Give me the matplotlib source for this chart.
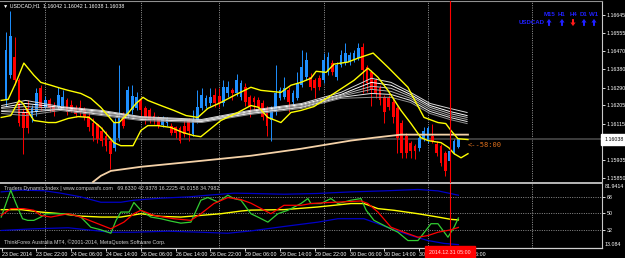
import matplotlib
matplotlib.use('Agg')
import matplotlib.pyplot as plt
from matplotlib import transforms
from matplotlib.patches import Polygon

plt.rcParams['font.family'] = ['Liberation Sans', 'DejaVu Sans']

# ---- USDCAD H1 candles (bar 0 = oldest visible bar) ----
opens = [1.16228, 1.16351, 1.16439, 1.16326, 1.16169, 1.16189, 1.16140, 1.16169, 1.16287, 1.16194,
         1.16228, 1.16203, 1.16194, 1.16203, 1.16228, 1.16208, 1.16189, 1.16198, 1.16179, 1.16154,
         1.16120, 1.16115, 1.16081, 1.16056, 1.16032, 1.15997, 1.16046, 1.16145, 1.16154, 1.16179,
         1.16189, 1.16228, 1.16189, 1.16179, 1.16154, 1.16140, 1.16110, 1.16120, 1.16105, 1.16096,
         1.16091, 1.16105, 1.16130, 1.16066, 1.16130, 1.16189, 1.16203, 1.16213, 1.16253, 1.16248,
         1.16213, 1.16262, 1.16277, 1.16262, 1.16243, 1.16292, 1.16243, 1.16238, 1.16228, 1.16213,
         1.16189, 1.16130, 1.16169, 1.16238, 1.16243, 1.16277, 1.16218, 1.16238, 1.16302, 1.16341,
         1.16341, 1.16326, 1.16336, 1.16326, 1.16365, 1.16410, 1.16341, 1.16400, 1.16410, 1.16415,
         1.16424, 1.16434, 1.16488, 1.16390, 1.16365, 1.16326, 1.16287, 1.16243, 1.16238, 1.16218,
         1.16189, 1.16120, 1.16056, 1.16022, 1.16007, 1.15997, 1.16041, 1.16032, 1.16056, 1.16017,
         1.16007, 1.15973, 1.15933, 1.15973, 1.16000]
closes = [1.16474, 1.16542, 1.16326, 1.16120, 1.16091, 1.16091, 1.16189, 1.16262, 1.16194, 1.16228,
          1.16189, 1.16169, 1.16253, 1.16243, 1.16169, 1.16179, 1.16164, 1.16169, 1.16145, 1.16096,
          1.16056, 1.16041, 1.16032, 1.16007, 1.15968, 1.16120, 1.16145, 1.16105, 1.16277, 1.16248,
          1.16243, 1.16179, 1.16140, 1.16130, 1.16130, 1.16105, 1.16140, 1.16140, 1.16071, 1.16071,
          1.16032, 1.16066, 1.16081, 1.16130, 1.16194, 1.16253, 1.16238, 1.16243, 1.16213, 1.16213,
          1.16292, 1.16292, 1.16262, 1.16326, 1.16311, 1.16218, 1.16203, 1.16218, 1.16194, 1.16145,
          1.16105, 1.16179, 1.16262, 1.16277, 1.16287, 1.16218, 1.16262, 1.16311, 1.16390, 1.16424,
          1.16292, 1.16287, 1.16292, 1.16424, 1.16439, 1.16365, 1.16400, 1.16449, 1.16459, 1.16449,
          1.16459, 1.16483, 1.16375, 1.16311, 1.16277, 1.16262, 1.16228, 1.16169, 1.16194, 1.16145,
          1.16046, 1.15973, 1.15973, 1.15982, 1.15982, 1.16046, 1.16081, 1.16091, 1.16032, 1.15973,
          1.15924, 1.15884, 1.15982, 1.16032, 1.16038]
highs = [1.16562, 1.16665, 1.16537, 1.16336, 1.16189, 1.16228, 1.16208, 1.16287, 1.16302, 1.16248,
         1.16238, 1.16218, 1.16292, 1.16277, 1.16238, 1.16228, 1.16208, 1.16228, 1.16198, 1.16169,
         1.16140, 1.16120, 1.16100, 1.16081, 1.16051, 1.16140, 1.16400, 1.16169, 1.16297, 1.16302,
         1.16267, 1.16243, 1.16203, 1.16189, 1.16169, 1.16154, 1.16154, 1.16149, 1.16120, 1.16105,
         1.16105, 1.16130, 1.16140, 1.16179, 1.16277, 1.16287, 1.16253, 1.16287, 1.16287, 1.16287,
         1.16326, 1.16321, 1.16287, 1.16356, 1.16326, 1.16311, 1.16253, 1.16248, 1.16243, 1.16228,
         1.16203, 1.16203, 1.16400, 1.16292, 1.16341, 1.16292, 1.16277, 1.16365, 1.16474, 1.16464,
         1.16360, 1.16336, 1.16351, 1.16459, 1.16464, 1.16424, 1.16415, 1.16474, 1.16508, 1.16464,
         1.16474, 1.16508, 1.16508, 1.16400, 1.16375, 1.16336, 1.16302, 1.16253, 1.16253, 1.16243,
         1.16203, 1.16130, 1.16071, 1.16032, 1.16017, 1.16056, 1.16100, 1.16105, 1.16115, 1.16032,
         1.16017, 1.15982, 1.15992, 1.16041, 1.16042]
lows = [1.16203, 1.16336, 1.16302, 1.16105, 1.15968, 1.16071, 1.16125, 1.16154, 1.16179, 1.16179,
        1.16169, 1.16154, 1.16184, 1.16189, 1.16159, 1.16169, 1.16149, 1.16154, 1.16130, 1.16081,
        1.16032, 1.16022, 1.16007, 1.15982, 1.15894, 1.15982, 1.16032, 1.16091, 1.16140, 1.16164,
        1.16179, 1.16154, 1.16115, 1.16120, 1.16115, 1.16091, 1.16100, 1.16105, 1.16061, 1.16046,
        1.16022, 1.16051, 1.16032, 1.16056, 1.16120, 1.16179, 1.16189, 1.16203, 1.16198, 1.16194,
        1.16203, 1.16243, 1.16228, 1.16248, 1.16228, 1.16203, 1.16145, 1.16179, 1.16179, 1.16130,
        1.16056, 1.16032, 1.16159, 1.16228, 1.16233, 1.16169, 1.16208, 1.16228, 1.16292, 1.16326,
        1.16277, 1.16238, 1.16277, 1.16311, 1.16351, 1.16351, 1.16326, 1.16390, 1.16400, 1.16400,
        1.16415, 1.16424, 1.16262, 1.16267, 1.16203, 1.16238, 1.16208, 1.16120, 1.16179, 1.16120,
        1.15973, 1.15948, 1.15948, 1.15948, 1.15943, 1.15982, 1.16032, 1.16022, 1.16022, 1.15958,
        1.15909, 1.15860, 1.15924, 1.15968, 1.15995]

# ---- main window indicators (x = bar number) ----
band_hi_x = [-1.1, 0.5, 2.3, 4.1, 6.4, 8.0, 10.3, 12.6, 14.3, 17.2, 19.5, 21.8, 24.8, 26.0, 28.0, 29.9,
             31.5, 32.6, 35.6, 38.6, 41.4, 44.1, 46.4, 49.4, 52.9, 56.3, 58.6, 63.2, 65.5, 67.8, 70.1,
             71.3, 73.6, 75.4, 78.6, 80.9, 84.4, 87.8, 90.8, 92.4, 93.6, 96.1, 99.3, 101.1, 102.3,
             103.9, 106.2]
band_hi = [1.16228, 1.16233, 1.16316, 1.16410, 1.16351, 1.16316, 1.16302, 1.16287, 1.16277, 1.16262,
           1.16238, 1.16194, 1.16120, 1.16120, 1.16164, 1.16213, 1.16243, 1.16228, 1.16203, 1.16179,
           1.16154, 1.16145, 1.16189, 1.16218, 1.16257, 1.16292, 1.16277, 1.16267, 1.16302, 1.16316,
           1.16336, 1.16370, 1.16365, 1.16405, 1.16415, 1.16434, 1.16459, 1.16390, 1.16326, 1.16292,
           1.16243, 1.16145, 1.16120, 1.16115, 1.16081, 1.16041, 1.16037]
band_lo_x = [-1.1, 1.1, 3.0, 3.9, 6.4, 9.7, 11.5, 14.3, 16.6, 19.1, 21.8, 24.8, 26.4, 29.2, 31.0, 32.6,
             34.9, 37.9, 40.7, 43.2, 44.8, 49.4, 53.3, 56.3, 58.1, 60.2, 63.2, 65.5, 67.8, 70.8, 75.4,
             80.0, 83.2, 85.5, 87.8, 90.8, 93.1, 95.4, 97.0, 100.0, 101.8, 103.0, 104.6, 106.2]
band_lo = [1.16145, 1.16154, 1.16228, 1.16213, 1.16130, 1.16120, 1.16120, 1.16140, 1.16149, 1.16145,
           1.16096, 1.16022, 1.16007, 1.16007, 1.16081, 1.16105, 1.16105, 1.16096, 1.16071, 1.16056,
           1.16051, 1.16130, 1.16169, 1.16203, 1.16194, 1.16145, 1.16120, 1.16169, 1.16179, 1.16198,
           1.16262, 1.16326, 1.16385, 1.16341, 1.16277, 1.16179, 1.16115, 1.16046, 1.16032, 1.16022,
           1.15997, 1.15968, 1.15948, 1.15968]
slow_ma_x = [20.0, 21.8, 24.1, 31.0, 44.8, 56.3, 67.8, 79.3, 84.6, 90.8, 106.2]
slow_ma = [1.15830, 1.15860, 1.15884, 1.15904, 1.15933, 1.15958, 1.15992, 1.16032, 1.16046, 1.16061, 1.16061]

ribbon_x = [-1, 4.5, 12.5, 22, 31, 45, 56, 68, 77, 84, 88.5, 93, 97.5, 102, 106]
ribbon_1 = [1.16203, 1.16228, 1.16198, 1.16179, 1.16149, 1.16135, 1.16179, 1.16213, 1.16267, 1.16336,
            1.16316, 1.16267, 1.16213, 1.16189, 1.16169]
ribbon_2 = [1.16194, 1.16213, 1.16194, 1.16174, 1.16145, 1.16130, 1.16174, 1.16208, 1.16257, 1.16316,
            1.16302, 1.16257, 1.16203, 1.16174, 1.16154]
ribbon_3 = [1.16189, 1.16198, 1.16189, 1.16169, 1.16145, 1.16130, 1.16169, 1.16203, 1.16253, 1.16297,
            1.16287, 1.16248, 1.16194, 1.16164, 1.16145]
ribbon_4 = [1.16179, 1.16184, 1.16184, 1.16164, 1.16140, 1.16125, 1.16164, 1.16198, 1.16248, 1.16282,
            1.16272, 1.16238, 1.16184, 1.16154, 1.16135]
ribbon_5 = [1.16174, 1.16169, 1.16184, 1.16159, 1.16135, 1.16125, 1.16164, 1.16194, 1.16243, 1.16262,
            1.16257, 1.16228, 1.16174, 1.16145, 1.16125]
ribbon_6 = [1.16164, 1.16154, 1.16179, 1.16154, 1.16130, 1.16120, 1.16159, 1.16189, 1.16238, 1.16243,
            1.16243, 1.16218, 1.16164, 1.16135, 1.16115]

# ---- Traders Dynamic Index ----
rsi_x = [-1.1, 0, 1.1, 2.3, 3.8, 5, 6.4, 8, 9.2, 12.2, 14.3, 17.2, 19.5, 21.8, 24.1, 25.3, 26.4, 28.3,
         29.4, 31, 33.3, 35.6, 37.9, 40.2, 42.5, 44.8, 46.4, 48.7, 51, 52.4, 54, 56.3, 57.9, 60.2,
         62.5, 64.8, 67.8, 69.4, 70.1, 72.4, 74.7, 76.3, 79.3, 81.6, 82.8, 84.6, 86.9, 90.1, 92.4,
         94.7, 97.7, 99.3, 101.6, 103, 104]
rsi = [46, 60.6, 75, 60.6, 44.2, 42.4, 42.4, 46, 49.6, 49.6, 49.6, 46, 35, 32.2, 28.5, 42.4, 51.4, 51.4,
       61.7, 53.3, 46, 44.2, 41.6, 39.4, 40.5, 64.2, 67.1, 62.3, 69.6, 66, 64.2, 49.6, 46, 40.5,
       49.6, 53.3, 60.6, 66, 60.6, 60.6, 66, 60.6, 64.2, 66, 53.3, 42.4, 36.9, 29.6, 20.6,
       20.6, 38.8, 38.8, 24.2, 35, 45.0]
signal_x = [-1.1, 1.1, 4.1, 6.4, 8, 10.3, 14.3, 17.2, 20.2, 24.1, 27.1, 29.4, 31, 34, 38.6, 42.5, 44.8,
            47.8, 51, 54, 56.3, 60.9, 63.9, 67.8, 70.1, 74, 77, 81.6, 83.2, 85.5, 88.5, 91.5, 94.7,
            97, 99.3, 102.3, 104]
signal = [47.8, 55.1, 55.1, 53.3, 47.8, 46, 49.6, 46, 40.5, 33.3, 40.5, 49.6, 53.3, 47.8, 44.2, 42.4, 49.6,
          60.6, 67.1, 64.9, 61, 49.6, 58.7, 58.7, 60.6, 61.7, 62.3, 63.4, 60.6, 51.4, 35, 29.6, 24.2,
          26, 29.6, 32.2, 34.8]
base_x = [-1.1, 3.5, 8, 12.6, 17.2, 21.8, 26.4, 31, 35.6, 40.2, 44.8, 49.4, 54, 56.3, 63.9, 71.7, 79.3,
          82.3, 85.5, 89.2, 94.7, 99.3, 102.3, 104]
base = [54, 54, 51.4, 49.6, 47, 46, 46, 49.6, 46.7, 46, 47.8, 49.6, 52.5, 53.5, 54, 56.9, 60.6,
        60.6, 55.1, 53.3, 49.6, 46, 43.5, 42.9]
vb_up_x = [-1.1, 3.5, 8.7, 12.6, 17.2, 21.8, 26.4, 29.4, 35.6, 41.9, 46.4, 52.4, 56.3, 63.9, 71.7, 79.3,
           86.9, 94.7, 99.3, 104]
vb_up = [73.2, 75.1, 74.5, 71.8, 67.8, 62, 62, 64.2, 66.4, 67.8, 69.6, 71.8, 71.5, 70.7, 71.5, 73.2,
         74.3, 75.8, 74.3, 69.6]
vb_dn_x = [-1.1, 6.4, 14.3, 20.2, 24.1, 29.4, 37.2, 44.8, 51, 56.3, 63.9, 71.7, 76.3, 82.3, 85.5, 89.2,
           93.1, 97, 100.7, 104]
vb_dn = [31.5, 33.3, 34.4, 31.5, 29.6, 29.6, 30.7, 29.6, 28.5, 31, 35.8, 40.5, 44.2, 44.2, 38.8, 32.2,
         26, 20.6, 17.5, 16.2]

price_ticks = [1.16645, 1.16555, 1.16470, 1.16380, 1.16290, 1.16205, 1.16115, 1.15935, 1.15850]
tdi_levels = [68, 50, 32]
time_bars = [-1, 7, 15, 23, 31, 39, 47, 55, 63, 71, 79, 87, 95, 103]
time_labels = ['23 Dec 2014', '23 Dec 22:00', '24 Dec 06:00', '24 Dec 14:00', '26 Dec 06:00',
               '26 Dec 14:00', '26 Dec 22:00', '29 Dec 06:00', '29 Dec 14:00', '29 Dec 22:00',
               '30 Dec 06:00', '30 Dec 14:00', '30 Dec 22:00', '31 Dec 06:00']
day_bars = [9, 31, 49, 73, 97, 121]
last_price = 1.16038
vline_bar = 102
tf_names = ['M15', 'H1', 'H4', 'D1', 'W1']
tf_up = [True, True, False, True, True]

W, H = 625, 258
FS = 3.8
BLUE = '#2020ff'


def px_box(x0, y0, x1, y1):
    return [x0 / W, 1 - y1 / H, (x1 - x0) / W, (y1 - y0) / H]


def arrow(x, yc, up, color):
    # small block arrow, figure pixels measured from the top
    s = -1 if up else 1
    pts = [(x - 2.6, yc), (x, yc + s * 3.6), (x + 2.6, yc), (x + 1.0, yc), (x + 1.0, yc - s * 3.4),
           (x - 1.0, yc - s * 3.4), (x - 1.0, yc)]
    pts = [(px / W, 1 - py / H) for px, py in pts]
    fig.add_artist(Polygon(pts, closed=True, facecolor=color, edgecolor='none',
                           transform=fig.transFigure))


fig = plt.figure(figsize=(W / 100, H / 100), dpi=100, facecolor='black')
ax = fig.add_axes(px_box(0, 1, 602, 183))
ind = fig.add_axes(px_box(0, 183.8, 602, 247.5))
for a in (ax, ind):
    a.set_facecolor('black')
    a.set_xlim(-6 / 4.35, 596 / 4.35)
    a.spines['left'].set_visible(False)
    a.spines['right'].set_color('#c8c8c8')
    a.spines['right'].set_linewidth(0.8)
    for g in day_bars:
        a.axvline(g, color='#b0b0b0', lw=0.6, ls=(0, (1.2, 1.6)), zorder=0.5)

ax.set_ylim(1.15825, 1.16713)
ax.spines['top'].set_color('#909090')
ax.spines['top'].set_linewidth(0.8)
ax.spines['bottom'].set_color('#b8b8b8')
ax.spines['bottom'].set_linewidth(1.4)
ax.axhline(last_price, color='#484848', lw=1.2, zorder=1)

# candles
for i, (o, h, l, c) in enumerate(zip(opens, highs, lows, closes)):
    col = '#1e90ff' if c >= o else '#ff0000'
    ax.vlines(i, l, h, color=col, lw=0.7, zorder=2)
    ax.bar(i, max(abs(c - o), 0.00003), bottom=min(o, c), width=0.64, color=col, lw=0, zorder=2)

ribbon_cols = ['#d8d8d8', '#ffffff', '#c0c0c0', '#a8a8a8', '#e8e8e8', '#909090']
for ys, col in zip([ribbon_1, ribbon_2, ribbon_3, ribbon_4, ribbon_5, ribbon_6], ribbon_cols):
    ax.plot(ribbon_x, ys, color=col, lw=0.7, zorder=3)
ax.plot(slow_ma_x, slow_ma, color='#f5d2a8', lw=1.3, zorder=3)
ax.plot(band_hi_x, band_hi, color='#ffff00', lw=1.0, zorder=4)
ax.plot(band_lo_x, band_lo, color='#ffff00', lw=1.0, zorder=4)
ax.axvline(vline_bar, color='#ff0000', lw=0.8, zorder=5)

ax.yaxis.tick_right()
ax.set_yticks(price_ticks)
ax.set_yticklabels([f'{p:.5f}' for p in price_ticks])
ax.tick_params(axis='y', colors='white', length=2, width=0.6, pad=1.5, labelsize=FS)
ax.tick_params(axis='x', bottom=False, labelbottom=False)

mix = transforms.blended_transform_factory(ax.transAxes, ax.transData)
ax.text(1.004, last_price, f'{last_price:.5f}', transform=mix, ha='left', va='center', fontsize=FS,
        color='black', bbox=dict(facecolor='white', edgecolor='white', pad=0.6, boxstyle='square'))
ax.text(106.2, 1.16008, '<--58:00', color='#e0701c', fontsize=5, family='DejaVu Sans Mono',
        ha='left', va='center', zorder=6)

# indicator window
ind.set_ylim(13.084, 81.9414)
ind.spines['top'].set_visible(False)
ind.spines['bottom'].set_color('#d0d0d0')
ind.spines['bottom'].set_linewidth(0.9)
for lv in tdi_levels:
    ind.axhline(lv, color='#a0a0a0', lw=0.6, ls=(0, (1.2, 1.6)), zorder=0.5)
ind.plot(vb_up_x, vb_up, color='#0000c8', lw=0.9)
ind.plot(vb_dn_x, vb_dn, color='#0000c8', lw=0.9)
ind.plot(base_x, base, color='#ffff00', lw=1.0)
ind.plot(rsi_x, rsi, color='#32cd32', lw=0.9)
ind.plot(signal_x, signal, color='#ff0000', lw=0.9)
ind.axvline(vline_bar, color='#ff0000', lw=0.8, zorder=5)

ind.yaxis.tick_right()
ind.set_yticks(tdi_levels)
ind.set_yticklabels([str(v) for v in tdi_levels])
ind.tick_params(axis='y', colors='white', length=2, width=0.6, pad=1.5, labelsize=FS)
ind.text(1.004, 1.0, '81.9414', transform=ind.transAxes, ha='left', va='top', fontsize=FS, color='white')
ind.text(1.004, 0.0, '13.084', transform=ind.transAxes, ha='left', va='bottom', fontsize=FS, color='white')
ind.set_xticks(time_bars)
ind.set_xticklabels(time_labels, ha='left')
ind.tick_params(axis='x', colors='white', length=2, width=0.6, pad=1.2, labelsize=FS)

ind.text(0.006, 0.96, 'Traders Dynamic Index | www.compassfx.com   69.6330 42.9378 16.2225 45.0158 34.7982',
         transform=ind.transAxes, ha='left', va='top', fontsize=FS, color='#d0d0d0')
ind.text(0.006, 0.04, 'ThinkForex Australia MT4, \u00a92001-2014, MetaQuotes Software Corp.',
         transform=ind.transAxes, ha='left', va='bottom', fontsize=FS, color='#d0d0d0')

# header and multi-timeframe panel
fig.text(3 / W, 1 - 5.5 / H, '\u25bc USDCAD,H1  1.16042 1.16042 1.16038 1.16038', ha='left', va='center',
         fontsize=FS, color='white')
tf_x = [549, 562, 573, 584, 594]
for name, up, x in zip(tf_names, tf_up, tf_x):
    fig.text(x / W, 1 - 14 / H, name, ha='center', va='center', fontsize=4.4, fontweight='bold',
             color=BLUE)
    arrow(x, 22.5, up, BLUE if up else '#ff1a1a')
fig.text(545 / W, 1 - 22.5 / H, 'USDCAD', ha='right', va='center', fontsize=4.4, fontweight='bold',
         color=BLUE)

# red time marker on the time scale
fig.text((6 + 4.35 * vline_bar) / W, 1 - 252.5 / H, '2014.12.31 05:00', ha='center', va='center',
         fontsize=FS, color='#ffe0e0', zorder=10,
         bbox=dict(facecolor='#ff0000', edgecolor='#ff0000', pad=0.8, boxstyle='square'))

fig.savefig('out.png', dpi=100, facecolor='black')
